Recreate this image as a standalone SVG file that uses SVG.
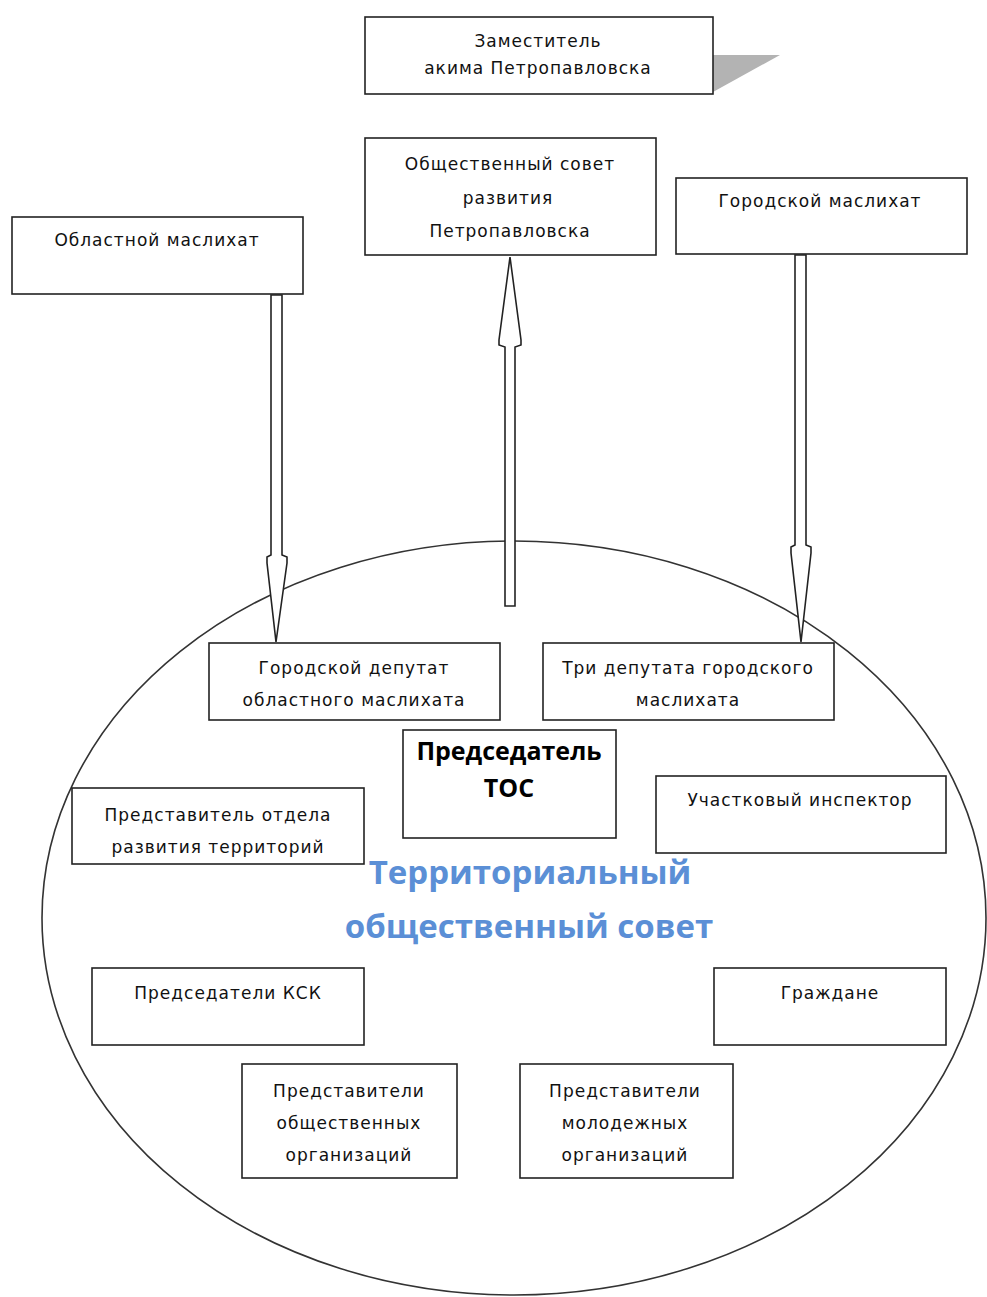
<svg xmlns="http://www.w3.org/2000/svg" width="987" height="1297" viewBox="0 0 987 1297">
<style>
.box{fill:#fff;stroke:#222;stroke-width:1.6}
.t{font-family:"DejaVu Sans",Verdana,sans-serif;font-size:17px;letter-spacing:1px;fill:#111;text-anchor:middle}
.b{font-family:"Open Sans","DejaVu Sans",sans-serif;font-size:25px;font-weight:bold;fill:#000;text-anchor:middle}
.big{font-family:"Open Sans","DejaVu Sans",sans-serif;font-size:33px;font-weight:bold;fill:#5b8fd6;text-anchor:middle}
.arr{fill:#fff;stroke:#222;stroke-width:1.6;stroke-linejoin:miter}
</style>
<rect width="987" height="1297" fill="#fff"/>
<g id="tos">
<ellipse cx="514" cy="918" rx="472" ry="377" fill="#fff" stroke="#333" stroke-width="1.6"/>
<text class="big" x="530" y="884">Территориальный</text>
<text class="big" x="529" y="938">общественный совет</text>
</g>
<g id="connectors">
<polygon class="arr" points="271,295 282,295 282,555 287,557 287,563 276,642 267,563 267,557 271,555"/>
<polygon class="arr" points="505,606 515,606 515,347 521,345 521,340 510,257 499,340 499,345 505,347"/>
<polygon class="arr" points="795,255 806,255 806,545 811,547 811,553 801,642 791,553 791,547 795,545"/>
</g>
<g id="zam">
<polygon points="713,55 780,55 713,92" fill="#b3b3b3"/>
<rect class="box" x="365" y="17" width="348" height="77"/>
<text class="t" x="538" y="47">Заместитель</text>
<text class="t" x="538" y="74">акима Петропавловска</text>
</g>
<g id="obshsovet">
<rect class="box" x="365" y="138" width="291" height="117"/>
<text class="t" x="510" y="170">Общественный совет</text>
<text class="t" x="508" y="204">развития</text>
<text class="t" x="510" y="237">Петропавловска</text>
</g>
<g id="gorodmaslihat">
<rect class="box" x="676" y="178" width="291" height="76"/>
<text class="t" x="820" y="207">Городской маслихат</text>
</g>
<g id="oblmaslihat">
<rect class="box" x="12" y="217" width="291" height="77"/>
<text class="t" x="157" y="246">Областной маслихат</text>
</g>
<g id="gordeputat">
<rect class="box" x="209" y="643" width="291" height="77"/>
<text class="t" x="354" y="674">Городской депутат</text>
<text class="t" x="354" y="706">областного маслихата</text>
</g>
<g id="trideputata">
<rect class="box" x="543" y="643" width="291" height="77"/>
<text class="t" x="688" y="674">Три депутата городского</text>
<text class="t" x="688" y="706">маслихата</text>
</g>
<g id="predsedatel">
<rect class="box" x="403" y="730" width="213" height="108"/>
<text class="b" x="509" y="760">Председатель</text>
<text class="b" x="509" y="797">ТОС</text>
</g>
<g id="otdel">
<rect class="box" x="72" y="788" width="292" height="76"/>
<text class="t" x="218" y="821">Представитель отдела</text>
<text class="t" x="218" y="853">развития территорий</text>
</g>
<g id="inspektor">
<rect class="box" x="656" y="776" width="290" height="77"/>
<text class="t" x="800" y="806">Участковый инспектор</text>
</g>
<g id="ksk">
<rect class="box" x="92" y="968" width="272" height="77"/>
<text class="t" x="228" y="999">Председатели КСК</text>
</g>
<g id="grazhdane">
<rect class="box" x="714" y="968" width="232" height="77"/>
<text class="t" x="830" y="999">Граждане</text>
</g>
<g id="obshorg">
<rect class="box" x="242" y="1064" width="215" height="114"/>
<text class="t" x="349" y="1097">Представители</text>
<text class="t" x="349" y="1129">общественных</text>
<text class="t" x="349" y="1161">организаций</text>
</g>
<g id="molorg">
<rect class="box" x="520" y="1064" width="213" height="114"/>
<text class="t" x="625" y="1097">Представители</text>
<text class="t" x="625" y="1129">молодежных</text>
<text class="t" x="625" y="1161">организаций</text>
</g>
</svg>
